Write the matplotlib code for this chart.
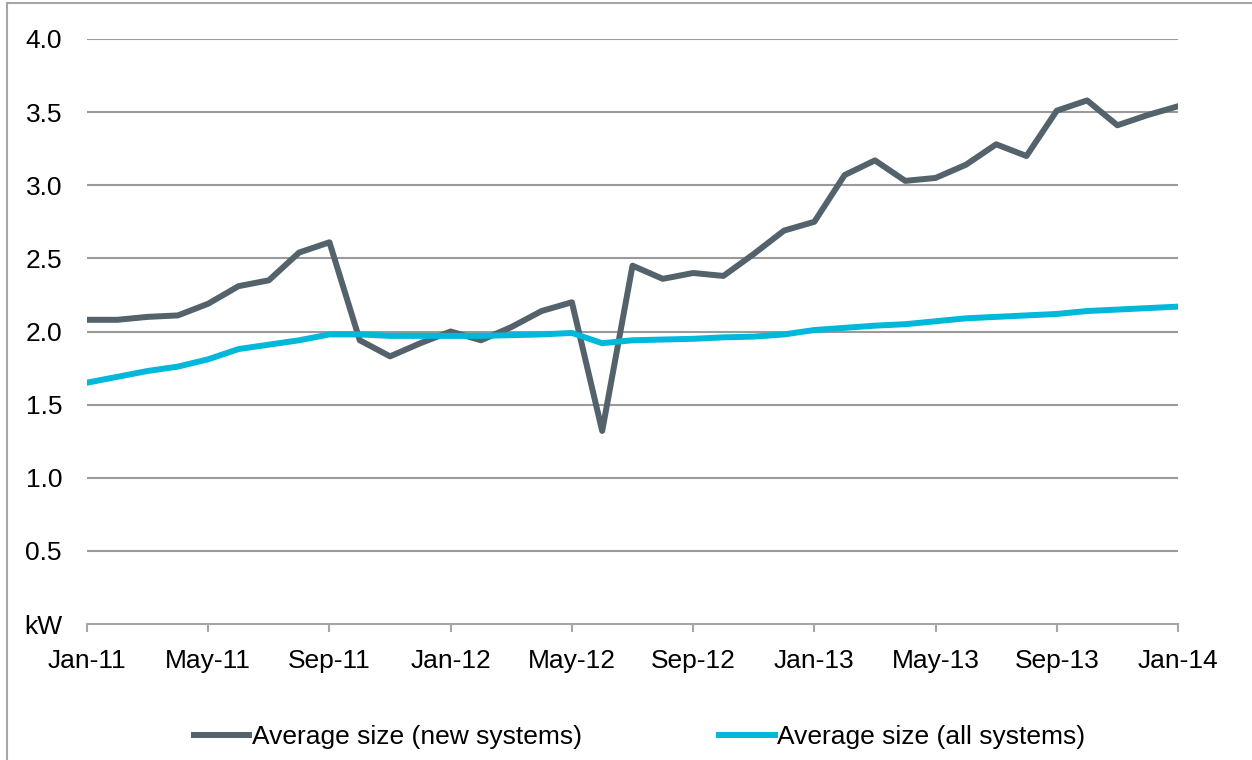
import matplotlib.pyplot as plt
from matplotlib.patches import Rectangle

plt.rcParams['font.family'] = ['Liberation Sans', 'DejaVu Sans']

# monthly data Jan-11 .. Jan-14
months = ['Jan-11', 'Feb-11', 'Mar-11', 'Apr-11', 'May-11', 'Jun-11', 'Jul-11', 'Aug-11',
          'Sep-11', 'Oct-11', 'Nov-11', 'Dec-11', 'Jan-12', 'Feb-12', 'Mar-12', 'Apr-12',
          'May-12', 'Jun-12', 'Jul-12', 'Aug-12', 'Sep-12', 'Oct-12', 'Nov-12', 'Dec-12',
          'Jan-13', 'Feb-13', 'Mar-13', 'Apr-13', 'May-13', 'Jun-13', 'Jul-13', 'Aug-13',
          'Sep-13', 'Oct-13', 'Nov-13', 'Dec-13', 'Jan-14']
new_systems = [2.08, 2.08, 2.10, 2.11, 2.19, 2.31, 2.35, 2.54, 2.61, 1.94, 1.83, 1.92,
               2.00, 1.94, 2.03, 2.14, 2.20, 1.32, 2.45, 2.36, 2.40, 2.38, 2.53, 2.69,
               2.75, 3.07, 3.17, 3.03, 3.05, 3.14, 3.28, 3.20, 3.51, 3.58, 3.41, 3.48, 3.54]
all_systems = [1.65, 1.69, 1.73, 1.76, 1.81, 1.88, 1.91, 1.94, 1.98, 1.98, 1.97, 1.97,
               1.97, 1.97, 1.975, 1.98, 1.99, 1.92, 1.94, 1.945, 1.95, 1.96, 1.965, 1.98,
               2.01, 2.025, 2.04, 2.05, 2.07, 2.09, 2.10, 2.11, 2.12, 2.14, 2.15, 2.16, 2.17]

yticks = [0, 0.5, 1.0, 1.5, 2.0, 2.5, 3.0, 3.5, 4.0]
ylabels = ['kW', '0.5', '1.0', '1.5', '2.0', '2.5', '3.0', '3.5', '4.0']

fs = 19

fig = plt.figure(figsize=(12.52, 7.6), dpi=100)
ax = fig.add_axes([87 / 1252, 1 - 624 / 760, 1091 / 1252, 585 / 760])

# outer frame (only left and top edges visible)
fig.patches.append(Rectangle((7 / 1252, -0.1), 1.1, 1.1 - 3 / 760, transform=fig.transFigure,
                             fill=False, edgecolor='#a6a6a6', linewidth=1.5))

x = list(range(len(months)))
ax.plot(x, new_systems, color='#53626b', linewidth=4.3, label='Average size (new systems)',
        zorder=3)
ax.plot(x, all_systems, color='#00b8da', linewidth=4.3, label='Average size (all systems)',
        zorder=3)

ax.set_xlim(0, len(months) - 1)
ax.set_ylim(0, 4.0)
ax.set_yticks(yticks)
ax.set_yticklabels(ylabels)
ax.set_xticks(x[::4])
ax.set_xticklabels(months[::4])

for v in yticks[1:]:
    ax.axhline(v, color='#9a9a9a', linewidth=1.5, zorder=1)

for s in ['left', 'right', 'top']:
    ax.spines[s].set_visible(False)
ax.spines['bottom'].set_color('#a6a6a6')
ax.spines['bottom'].set_linewidth(1.5)

ax.tick_params(axis='y', length=0, pad=18, labelsize=fs)
ax.tick_params(axis='x', direction='out', length=6, width=1.5, color='#a6a6a6',
               pad=12, labelsize=fs)

fig.legend(loc='center', bbox_to_anchor=(0.511, 0.030), ncol=2, frameon=False,
           fontsize=fs, handlelength=2.1, handletextpad=0.1, columnspacing=5.2)

fig.savefig('out.png', dpi=100)
